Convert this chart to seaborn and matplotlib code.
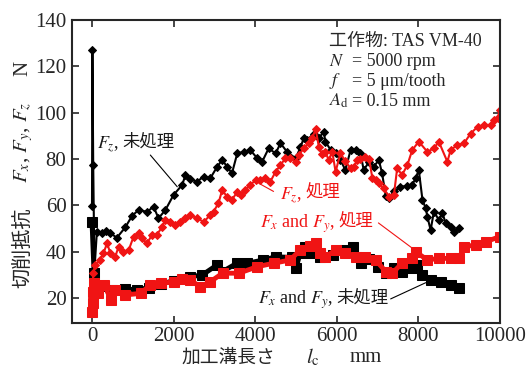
import matplotlib
matplotlib.use("Agg")
import matplotlib.pyplot as plt
import seaborn as sns

# ---- data ----
# F_z, untreated (black diamonds)
fz_raw_x = [0, 10, 30, 60, 120, 250, 350, 450, 610, 820, 980, 1140, 1350, 1510, 1630, 1800,
            2000, 2210, 2290, 2410, 2570, 2740, 2900, 3070, 3190, 3310, 3430, 3560, 3720, 3880,
            4050, 4170, 4330, 4500, 4620, 4780, 4990, 5110, 5190, 5270, 5440, 5560, 5680, 5720,
            5850, 5970, 6090, 6210, 6340, 6460, 6580, 6660, 6790, 6910, 7030, 7110, 7200, 7280,
            7400, 7560, 7730, 7850, 7930, 8010, 8100, 8180, 8220, 8300, 8380, 8500, 8590, 8670,
            8790, 8870, 8990]
fz_raw_y = [59.5, 127, 77.5, 32, 48.6, 48, 49, 48, 46, 50.6, 55.4, 58, 57.2, 59.4, 54.4, 58,
            64.5, 68.8, 73, 71.2, 70.2, 72.4, 71.7, 76.7, 79.6, 76.7, 73.8, 82.4, 83.1, 83.9,
            80.3, 78.8, 84.6, 82.4, 86.8, 83.1, 80.3, 85, 89, 88.2, 91, 89, 91.8, 87.5,
            83.9, 82.4, 79.6, 75.2, 84, 84, 82.4, 75.2, 78.8, 76.7, 79.6, 73.8, 64, 63,
            66, 68, 68.4, 68.8, 71.7, 75.2, 62.3, 58.7, 55.1, 49.3, 57.3, 53.7, 56.6, 52.2,
            50.8, 48.6, 50.1]

# F_z, treated (red diamonds)
fz_trt_x = [0, 15, 30, 80, 200, 280, 370, 450, 570, 650, 770, 900, 1020, 1140, 1220, 1350,
            1470, 1590, 1720, 1800, 1920, 2040, 2160, 2290, 2410, 2570, 2740, 2900, 2980, 3100,
            3190, 3310, 3430, 3560, 3640, 3760, 3880, 4010, 4130, 4250, 4370, 4500, 4620, 4740,
            4860, 4990, 5070, 5190, 5310, 5400, 5480, 5560, 5640, 5720, 5800, 5890, 5970, 6090,
            6210, 6340, 6420, 6500, 6580, 6700, 6790, 6870, 6950, 7030, 7150, 7280, 7400, 7480,
            7600, 7730, 7850, 8010, 8220, 8380, 8500, 8710, 8790, 8950, 9120, 9280, 9450, 9610,
            9770, 9850, 9940, 10000]
fz_trt_y = [18.4, 23.5, 31, 34.2, 36.4, 39.3, 43.6, 39.3, 37.8, 42.1, 40, 40.7, 46.5, 47.9, 45.8, 43.6,
            47.2, 47.2, 50.8, 53.7, 52.9, 51.5, 53, 54.4, 55.8, 54.4, 52.9, 55.8, 57.3, 60.9,
            66.6, 63.7, 62.3, 65.9, 64.5, 66.6, 68.8, 70.9, 70.9, 71.7, 70.2, 74.5, 77.4, 80.3,
            80.3, 78.8, 81.7, 84.6, 86.8, 88.9, 93, 85.3, 82, 83.1, 79.6, 83.1, 74.5, 82.5,
            79, 76, 76.7, 79.6, 80, 81, 80, 72, 71, 69.5, 67.3, 63.7, 64.5, 76,
            73.1, 77.4, 83.9, 87.5, 83.1, 84.6, 87.5, 78.8, 83.9, 86, 86.8, 91, 93.9, 94.7,
            94.7, 96.8, 97.6, 101]

# F_x and F_y, untreated (black squares)
fxy_raw_x = [0, 50, 100, 300, 500, 800, 1100, 1400, 1700, 2000, 2400, 2700, 3060, 3200, 3550,
             3800, 4200, 4500, 4900, 5000, 5100, 5230, 5350, 5600, 5900, 6200, 6400, 6600, 6800,
             7000, 7200, 7400, 7600, 7850, 7970, 8100, 8300, 8550, 8800, 9000]
fxy_raw_y = [53, 31, 24.2, 25, 23.5, 24, 23.5, 24.5, 26, 27.5, 29.2, 29.9, 34.2, 31.4, 35,
             35, 36.4, 37.8, 37.5, 32.8, 39.3, 42.1, 39.5, 37.8, 38.6, 40.7, 42.1, 35, 37,
             33.5, 30.7, 32.8, 31.4, 33, 34.2, 29.9, 27.8, 27, 25.6, 24.2]

# F_x and F_y, treated (red squares)
fxy_trt_x = [0, 15, 25, 60, 150, 300, 470, 570, 800, 1200, 1420, 1700, 2000, 2200, 2400, 2650,
             2900, 3200, 3600, 4050, 4450, 4860, 5100, 5350, 5480, 5600, 5720, 5970, 6210, 6460,
             6700, 6950, 7200, 7360, 7600, 7850, 7930, 8220, 8500, 8800, 9000, 9120, 9400, 9650,
             10000]
fxy_trt_y = [14, 17.7, 22.7, 26.3, 22, 25.6, 19.1, 23.5, 21.3, 22, 25.6, 26.3, 27, 28, 27.8, 24.9,
             27, 30.7, 30.7, 33.5, 35, 36.4, 40.7, 42.5, 43.6, 39.3, 37.8, 40.7, 39.3, 37.8,
             37.8, 36.4, 31.4, 30.7, 35, 37.1, 40, 36.4, 37.1, 37.1, 37.1, 42.1, 42.9, 44.3,
             46.5]

x_ticks = [0, 2000, 4000, 6000, 8000, 10000]
y_ticks = [20, 40, 60, 80, 100, 120, 140]

RED = "#f01414"
DARK = "#1a1a1a"
CJK = ["Noto Sans CJK JP", "DejaVu Sans"]
W, H = 527, 367

sns.set_style("ticks")
plt.rcParams["font.family"] = ["Liberation Serif", "Noto Sans CJK JP"]
plt.rcParams["mathtext.fontset"] = "stix"
plt.rcParams.update({"xtick.direction": "in", "ytick.direction": "in",
                     "xtick.top": True, "ytick.right": True,
                     "xtick.major.size": 5, "ytick.major.size": 5,
                     "axes.linewidth": 1.5, "font.size": 13})

fig = plt.figure(figsize=(W / 100, H / 100), dpi=100)
ax = fig.add_axes([72 / W, 1 - 323 / H, (500 - 72) / W, (323 - 20) / H])

common = dict(ax=ax, sort=False, estimator=None, legend=False)
sns.lineplot(x=fxy_raw_x, y=fxy_raw_y, color="black", marker="s", markersize=7,
             markeredgecolor="black", linewidth=3.5, **common)
sns.lineplot(x=fxy_trt_x, y=fxy_trt_y, color=RED, marker="s", markersize=7,
             markeredgecolor=RED, linewidth=3.5, **common)
sns.lineplot(x=fz_raw_x, y=fz_raw_y, color="black", marker="D", markersize=4,
             markeredgecolor="black", linewidth=1.5, **common)
sns.lineplot(x=fz_trt_x, y=fz_trt_y, color=RED, marker="D", markersize=4,
             markeredgecolor=RED, linewidth=1.5, **common)

ax.set_xlim(-490, 10000)
ax.set_ylim(9.2, 140)
ax.set_xticks(x_ticks)
ax.set_yticks(y_ticks)
ax.tick_params(labelsize=15, width=1.2, pad=4)
ax.tick_params(axis="x", pad=3)
ax.set_xlabel("")
ax.set_ylabel("")


def fpx(px, py):
    return px / W, 1 - py / H


# axis titles built from pieces (CJK in sans, symbols in serif math)
fig.text(*fpx(228, 357), "加工溝長さ", family=CJK, fontsize=13.5, ha="center", va="center")
fig.text(*fpx(313, 357), "$l_\\mathrm{c}$", fontsize=15, ha="center", va="center")
fig.text(*fpx(366, 357), "mm", fontsize=15, ha="center", va="center")
fig.text(*fpx(23, 248), "切削抵抗", family=CJK, fontsize=14.5, rotation=90, ha="center", va="center")
fig.text(*fpx(24, 142), "$F_x$, $F_y$, $F_z$", fontsize=15, rotation=90, ha="center", va="center")
fig.text(*fpx(23, 68), "N", fontsize=15, rotation=90, ha="center", va="center")

# condition block
tx = ax.transAxes
ax.text(0.601, 0.93, "工作物: TAS VM-40", transform=tx, fontsize=13, va="center")
for row, (sym, val) in enumerate([("$N$", "= 5000 rpm"), ("$f$", "= 5 μm/tooth"),
                                  ("$A_\\mathrm{d}$", "= 0.15 mm")]):
    yy = 0.864 - row * 0.066
    ax.text(0.601, yy, sym, transform=tx, fontsize=13, va="center")
    ax.text(0.655, yy, val, transform=tx, fontsize=13, va="center")


def curve_label(x, y, sym, word, color):
    t = ax.text(x, y, sym, fontsize=13, ha="left", va="baseline", color=color)
    ax.annotate(word, xy=(1, 0), xycoords=t, xytext=(2, 3), textcoords="offset points",
                family=CJK, fontsize=12.5, ha="left", va="bottom", color=color)


lead = dict(arrowstyle="-", lw=0.8, shrinkA=0, shrinkB=0)
curve_label(130, 84.5, "$F_z$,", "未処理", DARK)
ax.annotate("", xy=(2090, 68), xytext=(1430, 81.7), arrowprops=dict(color="black", **lead))
curve_label(4620, 62.5, "$F_z$,", "処理", RED)
ax.annotate("", xy=(4090, 69.5), xytext=(4450, 66), arrowprops=dict(color=RED, **lead))
curve_label(4130, 50.5, "$F_x$ and $F_y$,", "処理", RED)
ax.annotate("", xy=(7850, 41.5), xytext=(7020, 52.4), arrowprops=dict(color=RED, **lead))
curve_label(4080, 17.5, "$F_x$ and $F_y$,", "未処理", DARK)
ax.annotate("", xy=(8180, 26.6), xytext=(7320, 19.6), arrowprops=dict(color="black", **lead))

fig.savefig("out.png", dpi=100)
